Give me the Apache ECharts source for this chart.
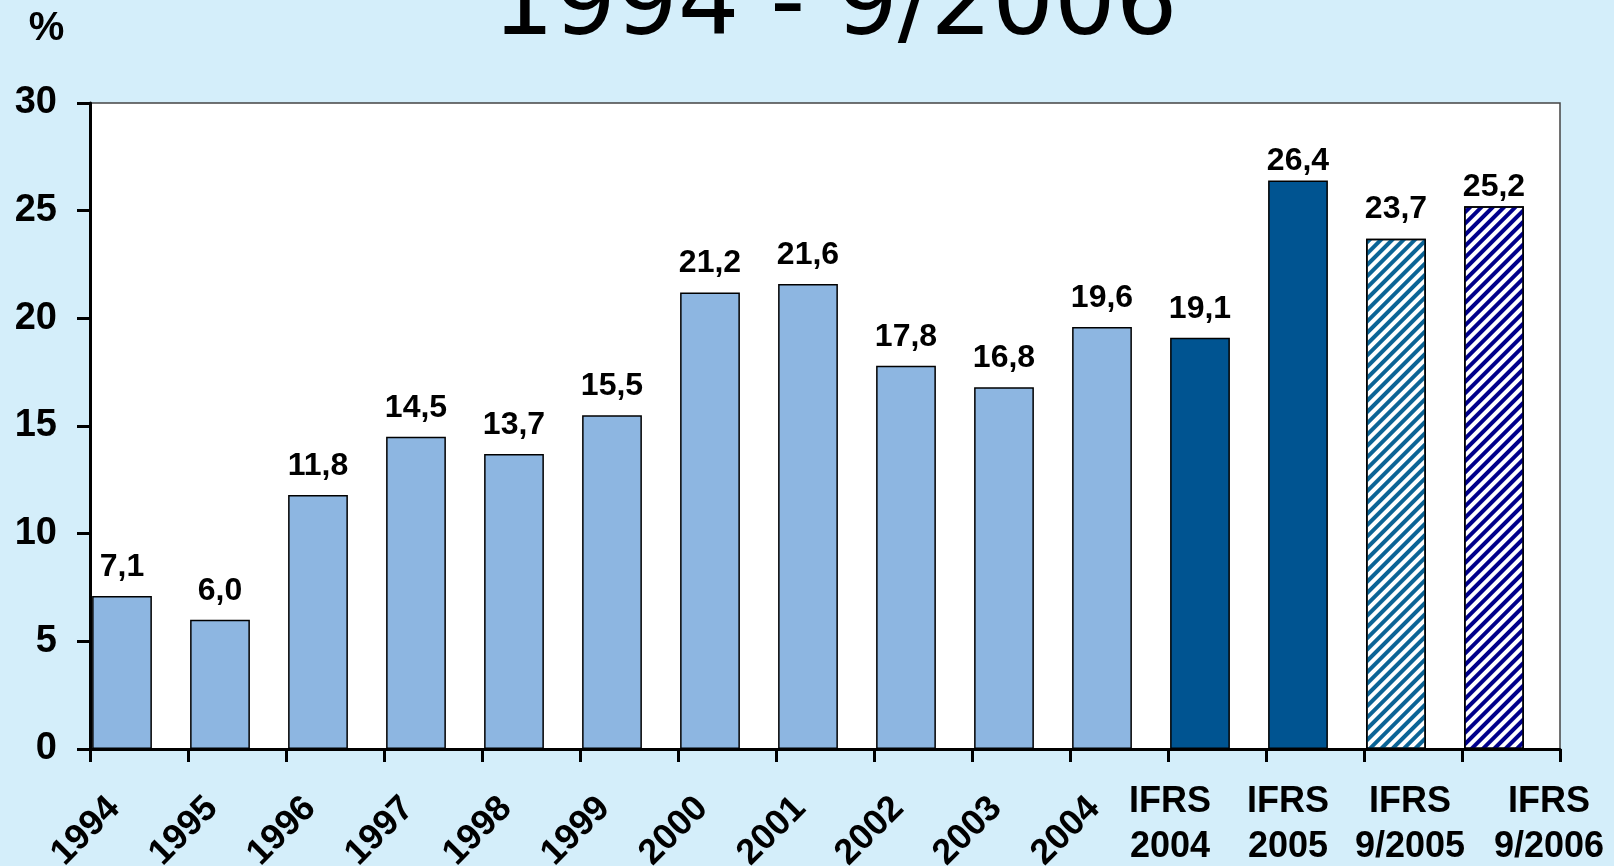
<!DOCTYPE html>
<html>
<head>
<meta charset="utf-8">
<script src="https://cdn.jsdelivr.net/npm/echarts@6/dist/echarts.min.js"></script>
<style>
  html, body { margin: 0; padding: 0; background: #D4EEFA; }
  #chart { width: 1614px; height: 866px; }
</style>
</head>
<body>
<div id="chart"></div>
<script>
// Return on equity, % — annual figures, then IFRS and nine-month IFRS figures
const categories = ['1994', '1995', '1996', '1997', '1998', '1999', '2000', '2001', '2002', '2003', '2004',
  'IFRS\n2004', 'IFRS\n2005', 'IFRS\n9/2005', 'IFRS\n9/2006'];
const values = [7.1, 6.0, 11.8, 14.5, 13.7, 15.5, 21.2, 21.6, 17.8, 16.8, 19.6, 19.1, 26.4, 23.7, 25.2];
const basis = ['local', 'local', 'local', 'local', 'local', 'local', 'local', 'local', 'local', 'local', 'local',
  'ifrs', 'ifrs', 'ifrs9m05', 'ifrs9m06'];
const yTicks = [0, 5, 10, 15, 20, 25, 30];
const titleText = '1994 - 9/2006';
const unitText = '%';

const FONT = '"Liberation Sans", Arial, sans-serif';

// fill per reporting basis
const fills = {
  local: { color: '#8DB6E1' },
  ifrs: { color: '#005491' },
  ifrs9m05: { color: '#ffffff', decal: { symbol: 'rect', symbolSize: 1, color: '#0B6496',
    dashArrayX: [1, 0], dashArrayY: [4, 4], rotation: -Math.PI / 4 } },
  ifrs9m06: { color: '#ffffff', decal: { symbol: 'rect', symbolSize: 1, color: '#00008B',
    dashArrayX: [1, 0], dashArrayY: [4, 4], rotation: -Math.PI / 4 } }
};

// value labels that sit closer to their bar
const labelDistance = { 12: 3, 14: 3 };

// horizontal nudges (px) of the two-line IFRS captions
const captionShift = { 11: -30, 12: -10, 13: 14, 14: 55 };
const captionRich = {};
Object.keys(captionShift).forEach(function (k) {
  const s = captionShift[k];
  captionRich['c' + k] = {
    fontSize: 36, fontWeight: 'bold', fontFamily: FONT, color: '#000', lineHeight: 45,
    padding: s >= 0 ? [0, 0, 0, 2 * s] : [0, -2 * s, 0, 0]
  };
});

const plotTop = 103, plotHeight = 646, plotWidth = 1470;
const frameLeft = 90, barsLeft = 73;

const chart = echarts.init(document.getElementById('chart'), null, { renderer: 'canvas' });
chart.setOption({
  backgroundColor: '#D4EEFA',
  animation: false,
  graphic: [
    { type: 'text', x: 835, y: 9, style: { text: titleText, fontSize: 97, fontFamily: '"DejaVu Sans", sans-serif',
      fontWeight: 'normal', fill: '#000', align: 'center', verticalAlign: 'middle' } },
    { type: 'text', x: 46.5, y: 29, style: { text: unitText, fontSize: 40, fontFamily: FONT,
      fontWeight: 'bold', fill: '#000', align: 'center', verticalAlign: 'middle' } }
  ],
  grid: [
    { left: frameLeft, top: plotTop, width: plotWidth, height: plotHeight, show: true, outerBoundsMode: 'none',
      backgroundColor: '#ffffff', borderColor: '#444', borderWidth: 1.5 },
    { left: barsLeft, top: plotTop, width: plotWidth, height: plotHeight, outerBoundsMode: 'none' },
    { left: barsLeft, top: plotTop, width: plotWidth, height: plotHeight, outerBoundsMode: 'none' }
  ],
  xAxis: [
    { gridIndex: 0, type: 'category', data: categories, boundaryGap: true, z: 5,
      axisLine: { show: true, lineStyle: { color: '#000', width: 3 } },
      axisTick: { show: true, interval: 0, length: 13, lineStyle: { color: '#000', width: 3 } },
      axisLabel: { show: false }, splitLine: { show: false } },
    { gridIndex: 1, type: 'category', data: categories, boundaryGap: true,
      axisLine: { show: false }, axisTick: { show: false }, splitLine: { show: false },
      axisLabel: { interval: 0, rotate: 45, margin: 46, padding: [0, 11, 0, 0], fontSize: 36, fontWeight: 'bold',
        fontFamily: FONT, color: '#000',
        formatter: function (v) { return v.indexOf('IFRS') === 0 ? '' : v; } } },
    { gridIndex: 2, type: 'category', data: categories, boundaryGap: true,
      axisLine: { show: false }, axisTick: { show: false }, splitLine: { show: false },
      axisLabel: { interval: 0, rotate: 0, margin: 31, rich: captionRich,
        formatter: function (v, i) {
          if (v.indexOf('IFRS') !== 0) return '';
          return v.split('\n').map(function (l) { return '{c' + i + '|' + l + '}'; }).join('\n');
        } } }
  ],
  yAxis: [
    { gridIndex: 0, type: 'value', min: yTicks[0], max: yTicks[yTicks.length - 1],
      interval: yTicks[1] - yTicks[0], z: 5,
      axisLine: { show: true, lineStyle: { color: '#000', width: 3 } },
      axisTick: { show: true, length: 13, lineStyle: { color: '#000', width: 3 } },
      axisLabel: { margin: 33, fontSize: 38, fontWeight: 'bold', fontFamily: FONT, color: '#000' },
      splitLine: { show: false } },
    { gridIndex: 1, type: 'value', min: yTicks[0], max: yTicks[yTicks.length - 1], show: false },
    { gridIndex: 2, type: 'value', min: yTicks[0], max: yTicks[yTicks.length - 1], show: false }
  ],
  series: [
    { type: 'bar', xAxisIndex: 1, yAxisIndex: 1, barWidth: '61%', z: 2,
      data: values.map(function (v, i) {
        const item = { value: v, itemStyle: fills[basis[i]] };
        if (labelDistance[i] !== undefined) item.label = { distance: labelDistance[i] };
        return item;
      }),
      itemStyle: { borderColor: '#000', borderWidth: 1.5 },
      label: { show: true, position: 'top', distance: 13, fontSize: 32, fontWeight: 'bold',
        fontFamily: FONT, color: '#000',
        formatter: function (p) { return p.value.toFixed(1).replace('.', ','); } } }
  ]
});
</script>
</body>
</html>
